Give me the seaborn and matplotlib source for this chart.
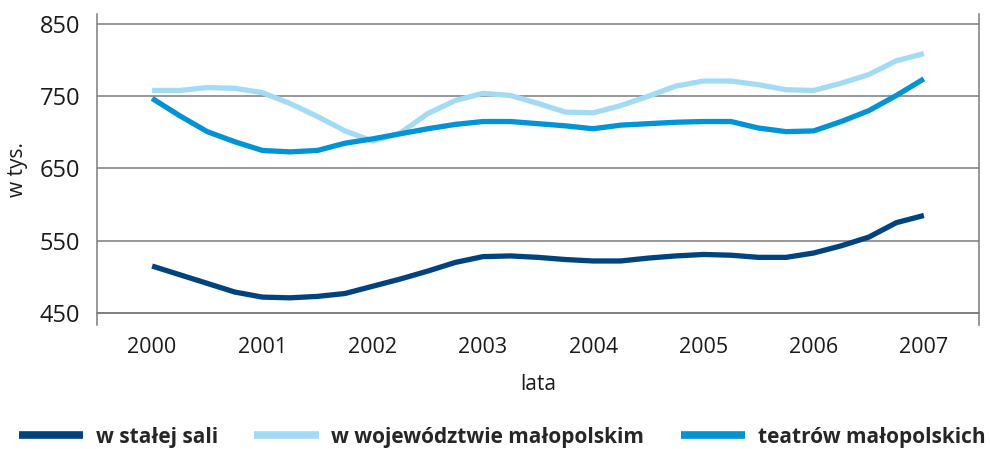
import numpy as np
import pandas as pd
import seaborn as sns
import matplotlib.pyplot as plt
from matplotlib.ticker import FixedLocator, NullFormatter

years = [2000, 2001, 2002, 2003, 2004, 2005, 2006, 2007]
t = [2000.0, 2000.25, 2000.5, 2000.75, 2001.0, 2001.25, 2001.5, 2001.75,
     2002.0, 2002.25, 2002.5, 2002.75, 2003.0, 2003.25, 2003.5, 2003.75,
     2004.0, 2004.25, 2004.5, 2004.75, 2005.0, 2005.25, 2005.5, 2005.75,
     2006.0, 2006.25, 2006.5, 2006.75, 2007.0]

stala_sala = [515, 503, 491, 479, 472, 471, 473, 477,
              487, 497, 508, 520, 528, 529, 527, 524,
              522, 522, 526, 529, 531, 530, 527, 527,
              533, 543, 555, 575, 585]
wojewodztwo = [758, 758, 762, 761, 755, 740, 722, 702,
               688, 699, 726, 744, 754, 751, 740, 728,
               727, 737, 750, 764, 771, 771, 766, 759,
               758, 768, 780, 799, 809]
teatry = [747, 723, 701, 687, 675, 673, 675, 685,
          691, 698, 705, 711, 715, 715, 712, 709,
          705, 710, 712, 714, 715, 715, 706, 701,
          702, 715, 730, 751, 774]

labels = ['w stałej sali', 'w województwie małopolskim', 'teatrów małopolskich']
colors = ['#00437f', '#a3dbf5', '#0093d6']

df = pd.concat([
    pd.DataFrame({'rok': t, 'widzowie': stala_sala, 'seria': labels[0]}),
    pd.DataFrame({'rok': t, 'widzowie': wojewodztwo, 'seria': labels[1]}),
    pd.DataFrame({'rok': t, 'widzowie': teatry, 'seria': labels[2]}),
])

sns.set_style('white')
plt.rcParams['font.family'] = ['Open Sans', 'DejaVu Sans']

fig = plt.figure(figsize=(9.9, 4.49), dpi=100)
ax = fig.add_axes([97 / 990, 1 - 325 / 449, (979 - 97) / 990, (325 - 14) / 449])

sns.lineplot(data=df, x='rok', y='widzowie', hue='seria', hue_order=labels,
             palette=colors, linewidth=3.8, ax=ax, legend=True,
             solid_capstyle='butt', solid_joinstyle='round')

grid_col = '#7a7a7a'
text_col = '#1a1a1a'
ax.set_xlim(1999.5, 2007.5)
ax.set_ylim(433.4, 863.8)
ax.set_yticks([450, 550, 650, 750, 850])
ax.grid(axis='y', color=grid_col, linewidth=1.1)
ax.set_axisbelow(True)

ax.xaxis.set_major_locator(FixedLocator([y - 0.5 for y in years] + [2007.5]))
ax.xaxis.set_major_formatter(NullFormatter())
ax.xaxis.set_minor_locator(FixedLocator(years))
ax.set_xticklabels([str(y) for y in years], minor=True)
ax.tick_params(axis='x', which='major', direction='out', length=7.2, width=1.1, color=grid_col)
ax.tick_params(axis='x', which='minor', length=0, pad=17, labelsize=15.5, labelcolor=text_col)
ax.tick_params(axis='y', direction='out', length=7.2, width=1.1, color=grid_col,
               pad=5, labelsize=17, labelcolor=text_col)

ax.spines['top'].set_visible(False)
ax.spines['bottom'].set_position(('data', 450))
for s in ['left', 'right', 'bottom']:
    ax.spines[s].set_color(grid_col)
    ax.spines[s].set_linewidth(1.1)

ax.set_xlabel('lata', fontsize=15, color=text_col)
ax.xaxis.set_label_coords(0.5, -0.158)
ax.set_ylabel('w tys.', fontsize=15, color=text_col)
ax.yaxis.set_label_coords(-0.078, 0.5)

leg = ax.legend(loc='center', bbox_to_anchor=(502 / 990, 1 - 437 / 449),
                bbox_transform=fig.transFigure, ncol=3, frameon=False,
                handlelength=3.1, handletextpad=0.6, columnspacing=1.75,
                prop={'size': 15, 'weight': 'bold'})
for line in leg.get_lines():
    line.set_linewidth(5.5)
    line.set_solid_capstyle('butt')

fig.savefig('out.png', dpi=100)
